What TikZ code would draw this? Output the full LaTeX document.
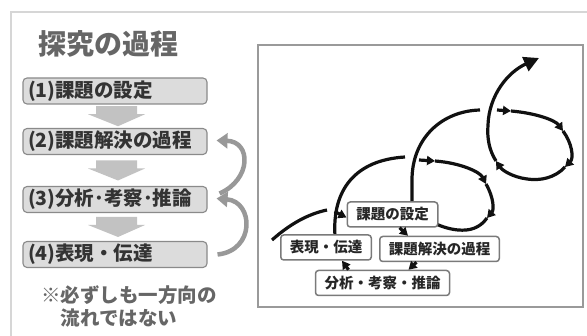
\documentclass[tikz,border=0pt]{standalone}
\usepackage{fontspec}
\setmainfont{Noto Sans CJK JP}
\usetikzlibrary{arrows.meta,calc}
\definecolor{framegray}{HTML}{D6D6D6}
\definecolor{boxfill}{HTML}{DCDCDC}
\definecolor{boxline}{HTML}{8A8A8A}
\definecolor{darktext}{HTML}{333333}
\definecolor{midtext}{HTML}{666666}
\definecolor{blockgray}{HTML}{C2C2C2}
\definecolor{arcgray}{HTML}{989898}
\definecolor{innerline}{HTML}{9A9A9A}
\definecolor{sboxline}{HTML}{7A7A7A}
\definecolor{spiral}{HTML}{111111}
\begin{document}
\begin{tikzpicture}[x=1pt,y=-1pt,
  lbox/.style={draw=boxline,line width=1.1pt,fill=boxfill,rounded corners=4pt,
    text width=174pt,align=left,inner xsep=5pt,inner ysep=0pt,minimum height=26pt,
    font=\fontsize{19.5}{22}\selectfont\bfseries,text=darktext},
  sbox/.style={draw=sboxline,line width=1.5pt,fill=white,rounded corners=3pt,
    inner xsep=9pt,inner ysep=0pt,minimum height=25pt,
    font=\fontsize{14.5}{17}\selectfont\bfseries,text=black!85},
  blockarrow/.style={fill=blockgray},
  grayarc/.style={draw=arcgray,line width=4.5pt,-{Triangle[length=11pt,width=15pt]}},
  sp/.style={draw=spiral,line width=3.2pt},
  spa/.style={sp,-{Triangle[length=8pt,width=9pt]}},
  spbig/.style={sp,-{Triangle[length=15pt,width=15pt]}},
  ttl/.style={font=\fontsize{28}{32}\selectfont\bfseries,text=midtext,inner sep=0pt},
  notetext/.style={font=\fontsize{19.5}{23}\selectfont\bfseries,text=midtext,inner sep=0pt,align=left}
]
\useasboundingbox (0,0) rectangle (587,336);
% outer frame
\draw[framegray,line width=1.5pt] (11,336) -- (11,12) -- (587,12);
% inner frame
\draw[innerline,line width=1.2pt] (258,45) rectangle (583,307);

% title
\node[ttl] (title) at (108,44) {探究の過程};

% left boxes
\node[lbox] (b1) at (115,91) {(1)課題の設定};
\node[lbox] (b2) at (115,141.5) {(2)課題解決の過程};
\node[lbox] (b3) at (115,199.5) {(3)分析･考察･推論};
\node[lbox] (b4) at (115,254.5) {(4)表現・伝達};

% block arrows
\foreach \a/\b/\n in {b1/b2/m12,b2/b3/m23,b3/b4/m34}{
  \path (\a.south) -- (\b.north) coordinate[pos=0.5] (\n);
  \fill[blockarrow] ([shift={(-19,-10)}]\n) -- ([shift={(22,-10)}]\n) -- ([shift={(22,-2)}]\n)
    -- ([shift={(30,-2)}]\n) -- ([shift={(3,10)}]\n) -- ([shift={(-27,-2)}]\n)
    -- ([shift={(-19,-2)}]\n) -- cycle;
}

% curved gray arrows
\draw[grayarc] ([shift={(12,-6)}]b3.east) .. controls ([shift={(44,-20)}]b3.east) and ([shift={(44,0)}]b2.east) .. ([shift={(9,-1)}]b2.east);
\draw[grayarc] ([shift={(10,0)}]b4.east) .. controls ([shift={(48,-4)}]b4.east) and ([shift={(46,2)}]b3.east) .. ([shift={(9,-1)}]b3.east);

% note
\node[notetext,anchor=north west] (note) at (41,285) {※必ずしも一方向の\\\hspace*{1em}流れではない};

% spiral (drawn before the boxes so that the boxes hide it)
\draw[sp] (272,240) .. controls (290,224) and (308,214) .. (327,210);
\coordinate (s4top) at (335,236);
\draw[sp] (s4top) .. controls (332,190) and (355,160) .. (405,157);
% first loop
\draw[spa] (419,160) -- (435,161);
\draw[spa] (435,161) .. controls (461,163) and (480,172) .. (486,184);
\draw[spa] (486,184) .. controls (494,198) and (494,210) .. (487,218);
\draw[sp] (487,218) .. controls (480,228) and (470,231) .. (458,230)
  .. controls (448,229) and (440,226) .. (432,222)
  .. controls (418,215) and (412,210) .. (412,200) -- (412,180)
  .. controls (412,138) and (442,111) .. (480,110);
% second loop
\draw[spa] (497,110) -- (511,111);
\draw[spa] (511,111) .. controls (535,113) and (555,120) .. (563,131);
\draw[spa] (563,131) .. controls (572,143) and (574,158) .. (565,167);
\draw[sp] (565,167) .. controls (555,178) and (540,181) .. (527,179);
\draw[spa] (527,179) .. controls (512,177) and (502,170) .. (496,161);
\draw[spbig] (496,161) .. controls (489,150) and (487,138) .. (488,125)
  .. controls (489,95) and (508,72) .. (539,58);

% spiral boxes
\node[sbox] (s1) at (392.5,214.5) {課題の設定};
\node[sbox] (s4) at (326,247.5) {表現・伝達};
\node[sbox] (s2) at (439.5,249) {課題解決の過程};
\node[sbox] (s3) at (382.5,283) {分析・考察・推論};

% small arrows between spiral boxes
\draw[spa] ([shift={(-12,-3)}]s1.west) -- ([yshift=-3]s1.west);
\draw[spa] ([xshift=7]s1.south) -- ([xshift=-31.5]s2.north);
\draw[spa] ([xshift=-23]s2.south) -- ([xshift=26]s3.north);
\draw[spa] ([xshift=-34]s3.north) -- ([xshift=16]s4.south);
\end{tikzpicture}
\end{document}
